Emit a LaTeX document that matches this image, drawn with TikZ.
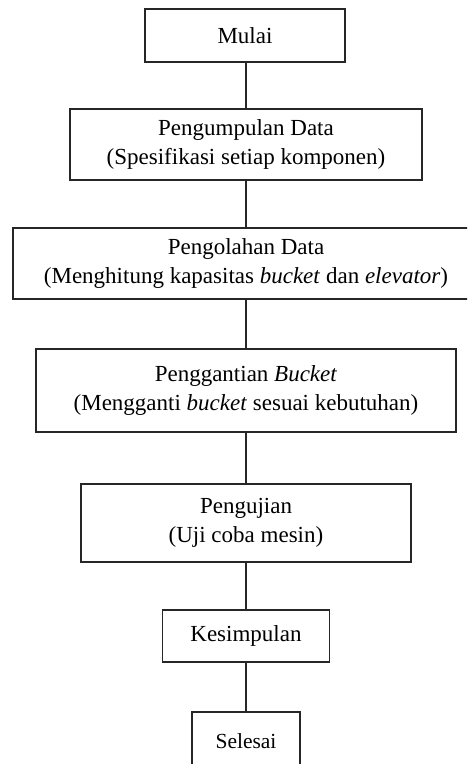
\documentclass[tikz,border=0pt]{standalone}
\usepackage{fontspec}
\setmainfont{Liberation Serif}
\begin{document}
\begin{tikzpicture}[x=1pt,y=-1pt,
  box/.style={draw=black!85, line width=1.1pt, rectangle, inner sep=0pt, align=center,
    font=\fontsize{23}{29}\selectfont},
  link/.style={draw=black!85, line width=1.1pt}]
\useasboundingbox (0,0) rectangle (467,764);
\clip (0,0) rectangle (467,764);
\node[box, minimum width=200, minimum height=53] (mulai) at (245,35.5) {Mulai};
\node[box, minimum width=352, minimum height=71] (kumpul) at (246,144.5) {Pengumpulan Data\\(Spesifikasi setiap komponen)};
\node[box, minimum width=466, minimum height=71] (olah) at (246,263.5) {Pengolahan Data\\(Menghitung kapasitas \textit{bucket} dan \textit{elevator})};
\node[box, minimum width=420, minimum height=83] (ganti) at (246,390.5) {Penggantian \textit{Bucket}\\(Mengganti \textit{bucket} sesuai kebutuhan)};
\node[box, minimum width=330, minimum height=78] (uji) at (246,523) {Pengujian\\(Uji coba mesin)};
\node[box, minimum width=167, minimum height=52] (simpul) at (246,636) {Kesimpulan};
\node[box, minimum width=108, minimum height=58, font=\fontsize{21.5}{26}\selectfont] (selesai) at (246,741) {Selesai};
\draw[link] (kumpul.north |- mulai.south) -- (kumpul.north);
\draw[link] (kumpul) -- (olah);
\draw[link] (olah) -- (ganti);
\draw[link] (ganti) -- (uji);
\draw[link] (uji) -- (simpul);
\draw[link] (simpul) -- (selesai);
\end{tikzpicture}
\end{document}
